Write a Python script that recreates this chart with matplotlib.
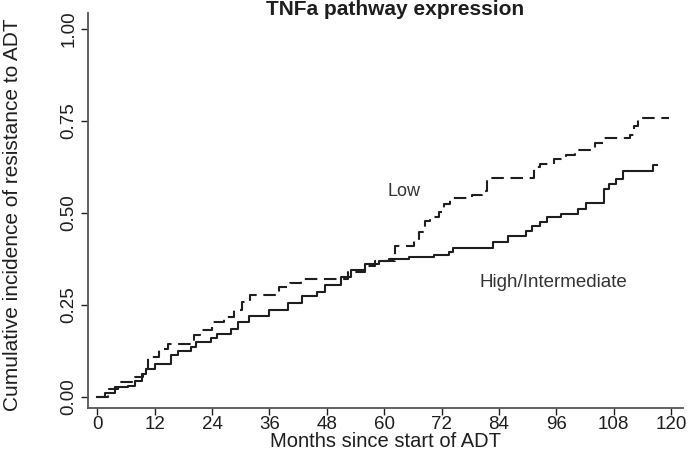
import matplotlib
matplotlib.use("Agg")
import matplotlib.pyplot as plt

# cumulative incidence step data (months, value)
high_t = [0, 1.7, 3.7, 6.5, 7.9, 9.3, 10.3, 12.0, 15.5, 16.8, 19.6, 20.6, 23.7, 25.0,
          27.9, 29.5, 31.7, 35.9, 40.0, 42.8, 46.0, 47.6, 51.0, 53.0, 56.0, 59.0, 61.0,
          65.2, 70.5, 73.5, 74.5, 82.8, 86.0, 89.7, 91.0, 92.5, 94.0, 97.0, 100.5, 102.2,
          106.0, 107.0, 108.4, 110.0, 116.2, 117.0]
high_v = [0.0, 0.012, 0.026, 0.03, 0.044, 0.062, 0.076, 0.09, 0.113, 0.126, 0.135, 0.149,
          0.16, 0.172, 0.186, 0.205, 0.22, 0.236, 0.255, 0.275, 0.286, 0.305, 0.325, 0.345,
          0.36, 0.37, 0.375, 0.38, 0.385, 0.395, 0.405, 0.421, 0.438, 0.45, 0.465, 0.475,
          0.489, 0.497, 0.51, 0.528, 0.566, 0.578, 0.593, 0.613, 0.63, 0.63]

low_t = [0, 2.3, 4.4, 7.9, 9.6, 10.6, 13.0, 14.7, 20.3, 21.7, 24.1, 26.5, 28.6, 30.3,
         32.0, 38.0, 40.3, 42.7, 52.4, 56.0, 58.0, 62.3, 66.3, 67.3, 68.6, 69.6, 71.4,
         72.5, 73.8, 78.3, 80.4, 81.5, 91.4, 92.5, 95.5, 98.0, 100.0, 104.0, 106.0, 111.5,
         112.3, 113.0, 119.5]
low_v = [0.0, 0.022, 0.04, 0.053, 0.076, 0.108, 0.131, 0.145, 0.168, 0.183, 0.204, 0.218,
         0.236, 0.259, 0.278, 0.298, 0.31, 0.32, 0.34, 0.355, 0.37, 0.41, 0.424, 0.447,
         0.479, 0.49, 0.502, 0.525, 0.54, 0.55, 0.561, 0.595, 0.626, 0.632, 0.646, 0.657,
         0.671, 0.69, 0.705, 0.712, 0.736, 0.758, 0.758]

x_ticks = [0, 12, 24, 36, 48, 60, 72, 84, 96, 108, 120]
y_ticks = [0.0, 0.25, 0.5, 0.75, 1.0]

plt.rcParams["font.family"] = ["Liberation Sans", "DejaVu Sans"]
ink = "#1e1e1e"

fig = plt.figure(figsize=(6.92, 4.69), dpi=100)
ax = fig.add_axes([0.127, 0.130, 0.860, 0.842])

ax.plot(high_t, high_v, drawstyle="steps-post", color=ink, lw=1.5)
ax.plot(low_t, low_v, drawstyle="steps-post", color=ink, lw=1.5, dashes=(6, 3.2))

ax.set_xlim(-1.95, 122.5)
ax.set_ylim(-0.03, 1.043)
ax.set_xticks(x_ticks)
ax.set_yticks(y_ticks)
ax.set_yticklabels(["%.2f" % v for v in y_ticks], rotation=90, va="center")
ax.tick_params(direction="out", length=5, width=1, colors=ink, labelsize=13.5)
ax.tick_params(axis="x", pad=1)
ax.tick_params(axis="y", pad=2.5)
for s in ["top", "right"]:
    ax.spines[s].set_visible(False)
for s in ["left", "bottom"]:
    ax.spines[s].set_color("#555555")
    ax.spines[s].set_linewidth(1.3)

ax.set_xlabel("Months since start of ADT", fontsize=14.5, color=ink, labelpad=-1)
ax.set_ylabel("Cumulative incidence of resistance to ADT", fontsize=15, color=ink)
ax.yaxis.set_label_coords(-0.110, 0.489)

ax.text(64.2, 0.557, "Low", fontsize=13, color="#333333", ha="center", va="center")
ax.text(95.3, 0.31, "High/Intermediate", fontsize=13.5, color="#333333", ha="center",
        va="center")

fig.text(0.571, 0.967, "TNFa pathway expression", fontsize=15, fontweight="bold",
         color=ink, ha="center", va="baseline")

fig.savefig("out.png", dpi=100)
